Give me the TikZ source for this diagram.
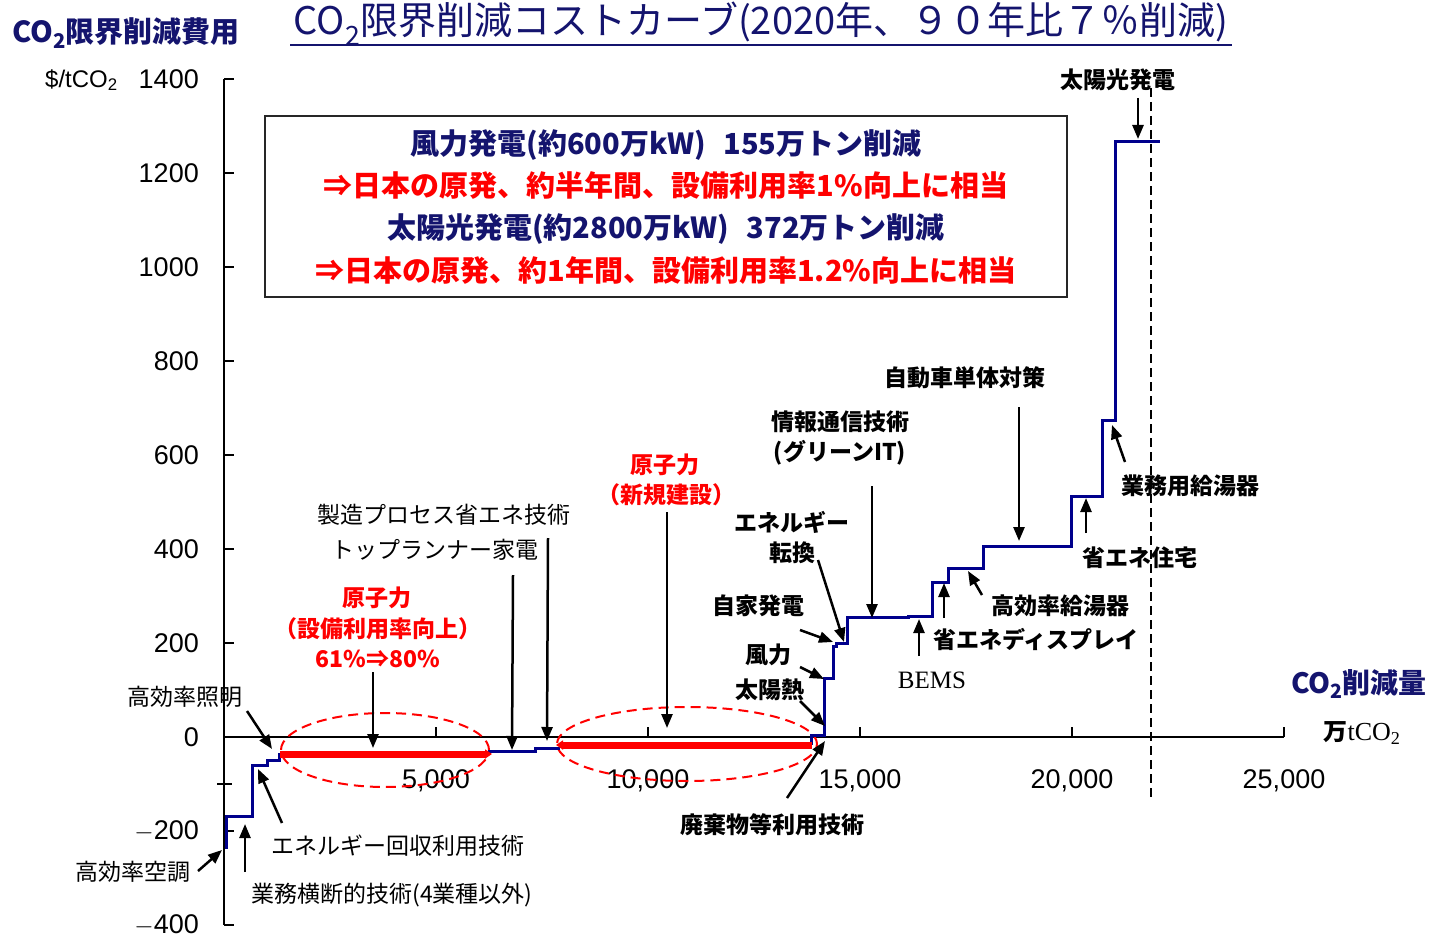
\documentclass[tikz,border=0pt]{standalone}
\usepackage{fontspec}
\setmainfont{Liberation Sans}
\newfontfamily\jp{Noto Sans CJK JP}
\newfontfamily\tms{Liberation Serif}
\usetikzlibrary{arrows.meta}
\definecolor{navy}{RGB}{0,0,140}
\definecolor{txtnavy}{RGB}{20,20,110}
\tikzset{
  lbl/.style={font=\jp\fontsize{23}{25}\selectfont, inner sep=0pt},
  lblb/.style={font=\jp\bfseries\fontsize{23}{25}\selectfont, inner sep=0pt},
  redlbl/.style={font=\jp\bfseries\fontsize{23}{25}\selectfont, text=red, inner sep=0pt},
  boxnavy/.style={font=\jp\bfseries\fontsize{29}{31}\selectfont, text=txtnavy, inner sep=0pt},
  boxred/.style={font=\jp\bfseries\fontsize{29}{31}\selectfont, text=red, inner sep=0pt},
  num/.style={font=\fontsize{27}{29}\selectfont, inner sep=0pt},
  ptr/.style={-{Triangle[length=14pt,width=11pt]}, line width=2.5pt},
  curveline/.style={navy, line width=3pt, line join=miter},
  redbar/.style={red, line width=7pt},
  redoval/.style={red, line width=2pt, dash pattern=on 10pt off 6pt},
  axisline/.style={black, line width=1.5pt},
}
\begin{document}
\begin{tikzpicture}[x=1pt,y=-1pt]
\useasboundingbox (0,0) rectangle (1432,939);
\fill[white] (0,0) rectangle (1432,939);

% ---- titles ----
\node[font=\jp\fontsize{38}{40}\selectfont, text=txtnavy, inner sep=0pt] (title) at (761,24)
  {CO\textsubscript{2}限界削減コストカーブ(2020年、９０年比７％削減)};
\draw[txtnavy, line width=2pt] (290,45) -- (1232,45);
\node[font=\jp\bfseries\fontsize{29}{31}\selectfont, text=txtnavy, inner sep=0pt, anchor=west] (ylab) at (12,33)
  {CO\textsubscript{2}限界削減費用};
\node[font=\fontsize{24}{26}\selectfont, inner sep=0pt, anchor=west] (yunit) at (45,80) {\$/tCO\textsubscript{2}};

% ---- axes ----
\draw[axisline] (224,79) -- (224,925);
\draw[axisline] (224,737) -- (1284,737);
\foreach \v in {1400,1200,1000,800,600,400,200,-200,-400}
  \draw[axisline] (224,{737-0.47*\v}) -- (234,{737-0.47*\v});
\draw[axisline] (217,{737+0.47*100}) -- (232,{737+0.47*100});
\foreach \k in {5,10,15,20,25}
  \draw[axisline] ({224+42.4*\k},737) -- ({224+42.4*\k},727);
\foreach \v/\t in {1400/1400,1200/1200,1000/1000,800/800,600/600,400/400,200/200,0/0,-200/{$-$200},-400/{$-$400}}
  \node[num, anchor=east] (yt\v) at (199,{737-0.47*\v}) {\t};
\foreach \k/\t in {5/{5,000},10/{10,000},15/{15,000},20/{20,000},25/{25,000}}
  \node[num] (xt\k) at ({224+42.4*\k},781) {\t};
\node[font=\jp\bfseries\fontsize{28}{30}\selectfont, text=txtnavy, inner sep=0pt] (xlab) at (1359,684) {CO\textsubscript{2}削減量};
\node[inner sep=0pt] (xunit) at (1362,733) {{\jp\bfseries\fontsize{24}{26}\selectfont 万}{\tms\fontsize{26}{28}\selectfont tCO\textsubscript{2}}};

% ---- dashed limit ----
\draw[black, line width=2pt, dash pattern=on 9pt off 5pt] (1151,88) -- (1151,800);

% ---- ovals ----
\draw[redoval] (385,750) ellipse [x radius=104pt, y radius=37pt];
\draw[redoval] (687,744) ellipse [x radius=130pt, y radius=37pt];

% ---- curve ----
\draw[curveline] (226,849) -- (226,816) -- (252,816) -- (252,765) -- (267,765) -- (267,760) -- (279,760) -- (279,754) -- (282,754);
\draw[curveline] (488,751) -- (535,751) -- (535,748) -- (560,748);
\draw[curveline] (811,745) -- (811,735) -- (824,735) -- (824,678) -- (833,678) -- (833,646) -- (836,646) -- (836,643) -- (847,643) -- (847,617) -- (908,617) -- (908,616) -- (932,616) -- (932,582) -- (948,582) -- (948,568) -- (983,568) -- (983,546) -- (1071,546) -- (1071,496) -- (1102,496) -- (1102,420) -- (1115,420) -- (1115,142) -- (1160,142);
\draw[redbar, -{Triangle[length=7pt,width=9pt]}] (280,754) -- (492,754);
\draw[redbar, {Triangle[length=7pt,width=9pt]}-] (556,745) -- (812,745);

% ---- box ----
\node[draw=black!85, line width=1.5pt, minimum width=802pt, minimum height=181pt, inner sep=0pt] (box) at (666,206.5) {};
\node[boxnavy] (b1) at (666,145) {風力発電(約600万kW)\hspace{0.6em}155万トン削減};
\node[boxred] (b2) at (666,186) {⇒日本の原発、約半年間、設備利用率1\%向上に相当};
\node[boxnavy] (b3) at (666,229) {太陽光発電(約2800万kW)\hspace{0.6em}372万トン削減};
\node[boxred] (b4) at (666,271) {⇒日本の原発、約1年間、設備利用率1.2\%向上に相当};

% ---- labels ----
\node[lbl] (l1) at (133,872) {高効率空調};
\node[lbl] (l2) at (392,895) {業務横断的技術(4業種以外)};
\node[lbl] (l3) at (398,846) {エネルギー回収利用技術};
\node[lbl] (l4) at (185,697) {高効率照明};
\node[redlbl] (n1a) at (377,598) {原子力};
\node[redlbl] (n1b) at (378,629) {（設備利用率向上）};
\node[redlbl] (n1c) at (378,659) {61\%⇒80\%};
\node[lbl] (l5) at (444,515) {製造プロセス省エネ技術};
\node[lbl] (l6) at (435,550) {トップランナー家電};
\node[redlbl] (n2a) at (665,465) {原子力};
\node[redlbl] (n2b) at (666,495) {（新規建設）};
\node[lblb] (l7a) at (792,522) {エネルギー};
\node[lblb] (l7b) at (792,553) {転換};
\node[lblb] (l8a) at (840,422) {情報通信技術};
\node[lblb] (l8b) at (840,453) {(グリーンIT)};
\node[lblb] (l9) at (965,378) {自動車単体対策};
\node[lblb] (l10) at (758,606) {自家発電};
\node[lblb] (l11) at (768,655) {風力};
\node[lblb] (l12) at (770,690) {太陽熱};
\node[lblb] (l13) at (772,825) {廃棄物等利用技術};
\node[font=\tms\fontsize{25}{27}\selectfont, inner sep=0pt] (l14) at (932,680) {BEMS};
\node[lblb] (l15) at (1036,640) {省エネディスプレイ};
\node[lblb] (l16) at (1060,606) {高効率給湯器};
\node[lblb] (l17) at (1140,558) {省エネ住宅};
\node[lblb] (l18) at (1190,486) {業務用給湯器};
\node[lblb] (l19) at (1118,80) {太陽光発電};

% ---- pointer arrows ----
\coordinate (s1) at (198,871);  \coordinate (e1) at (222,850);
\coordinate (s2) at (245,872);  \coordinate (e2) at (245,824);
\coordinate (s3) at (282,823);  \coordinate (e3) at (258,769);
\coordinate (s4) at (247,711);  \coordinate (e4) at (272,749);
\coordinate (s5) at (373,672);  \coordinate (e5) at (373,748);
\coordinate (s6) at (548,538);  \coordinate (e6) at (547,741);
\coordinate (s7) at (513,575);  \coordinate (e7) at (512,750);
\coordinate (s8) at (667,512);  \coordinate (e8) at (667,728);
\coordinate (s9) at (787,798);  \coordinate (e9) at (825,741);
\coordinate (s10) at (800,701); \coordinate (e10) at (825,726);
\coordinate (s11) at (800,667); \coordinate (e11) at (824,679);
\coordinate (s12) at (800,630); \coordinate (e12) at (833,642);
\coordinate (s13) at (818,560); \coordinate (e13) at (844,642);
\coordinate (s14) at (872,486); \coordinate (e14) at (872,618);
\coordinate (s15) at (919,656); \coordinate (e15) at (919,619);
\coordinate (s16) at (944,618); \coordinate (e16) at (944,583);
\coordinate (s17) at (982,595); \coordinate (e17) at (968,571);
\coordinate (s18) at (1019,407); \coordinate (e18) at (1019,541);
\coordinate (s19) at (1086,533); \coordinate (e19) at (1086,498);
\coordinate (s20) at (1125,462); \coordinate (e20) at (1112,425);
\coordinate (s21) at (1138,98);  \coordinate (e21) at (1138,139);
\foreach \i in {1,...,21} \draw[ptr] (s\i) -- (e\i);
\end{tikzpicture}
\end{document}
